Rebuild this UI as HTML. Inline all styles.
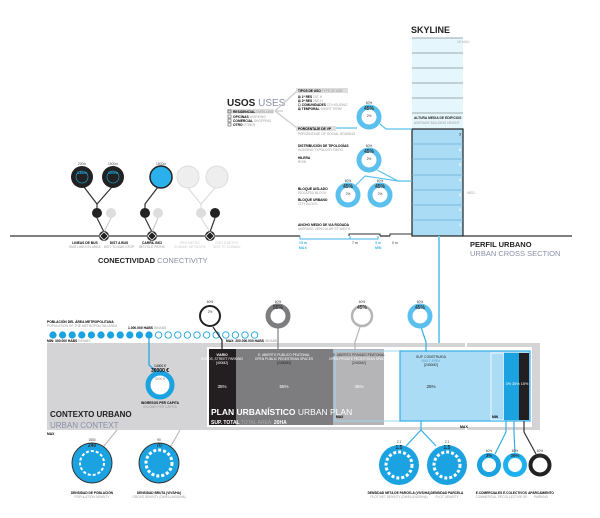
<!DOCTYPE html>
<html><head><meta charset="utf-8"><style>
html,body{margin:0;padding:0;background:#fff;}
svg{display:block;font-family:"Liberation Sans",sans-serif;}
.b{font-weight:bold;}
</style></head><body>
<svg width="600" height="518" viewBox="0 0 600 518" xmlns="http://www.w3.org/2000/svg">
<!-- SKYLINE -->
<text x="411" y="33" font-size="9" class="b" fill="#222">SKYLINE</text>
<rect x="412" y="38" width="51" height="91" fill="#e6f6fd"/>
<g stroke="#9aa" stroke-width="1">
<line x1="412" y1="38" x2="463" y2="38"/><line x1="412" y1="53" x2="463" y2="53"/><line x1="412" y1="68" x2="463" y2="68"/><line x1="412" y1="83" x2="463" y2="83"/><line x1="412" y1="98" x2="463" y2="98"/><line x1="412" y1="113" x2="463" y2="113"/>
</g>
<text x="457" y="43" font-size="3.5" fill="#aaa">15  MAX</text>
<text x="414" y="119" font-size="3.3" class="b" fill="#222">ALTURA MEDIA DE EDIFICIOS</text>
<text x="414" y="124" font-size="3.3" fill="#999">AVERAGE BUILDING HEIGHT</text>
<rect x="412" y="129" width="51" height="107" fill="#aadcf5" stroke="#222" stroke-width="1.2"/>
<g stroke="#6aaed0" stroke-width="0.8">
<line x1="412" y1="144" x2="463" y2="144"/><line x1="412" y1="159" x2="463" y2="159"/><line x1="412" y1="175" x2="463" y2="175"/><line x1="412" y1="190" x2="463" y2="190"/><line x1="412" y1="205" x2="463" y2="205"/><line x1="412" y1="220" x2="463" y2="220"/>
</g>
<g font-size="4" fill="#fff" class="b"><text x="459" y="136" fill="#222">7</text><text x="459" y="151">6</text><text x="459" y="166">5</text><text x="459" y="181">4</text><text x="459" y="196">3</text><text x="459" y="211">2</text><text x="459" y="226">1</text></g>
<text x="467" y="194" font-size="3.5" fill="#aaa">MED.</text>
<!-- ground line -->
<line x1="10" y1="236" x2="300" y2="236" stroke="#333" stroke-width="1.3"/>
<polyline points="300,236 300,239 350,239 350,236" fill="none" stroke="#3fb4ec" stroke-width="1"/>
<polyline points="349,236 349,234 380,234 380,236" fill="none" stroke="#333" stroke-width="1"/>
<polyline points="350,236 350,239 378,239 378,236" fill="none" stroke="#3fb4ec" stroke-width="1"/>
<line x1="380" y1="236" x2="390" y2="236" stroke="#333" stroke-width="1.3"/>
<polyline points="390,236 390,234 412,234" fill="none" stroke="#333" stroke-width="1"/>
<line x1="463" y1="236" x2="572" y2="236" stroke="#333" stroke-width="1.3"/>
<text x="299" y="244" font-size="3.5" fill="#3fb4ec" class="b">15 m</text><text x="299" y="249" font-size="3.5" fill="#3fb4ec" class="b">MAX</text>
<text x="352" y="244" font-size="3.5" fill="#333">7 m</text>
<text x="375" y="244" font-size="3.5" fill="#3fb4ec" class="b">3 m</text><text x="375" y="249" font-size="3.5" fill="#3fb4ec" class="b">MIN</text>
<text x="392" y="244" font-size="3.5" fill="#333">0 m</text>
<text x="470" y="247" font-size="7.5" class="b" fill="#222">PERFIL URBANO</text>
<text x="470" y="256" font-size="7.5" fill="#8a8fa8">URBAN CROSS SECTION</text>
<!-- blue vertical to plan -->
<line x1="439" y1="236" x2="439" y2="351" stroke="#7dcdf3" stroke-width="2"/>
<!-- USOS -->
<text x="227" y="106" font-size="10" class="b" fill="#222">USOS <tspan fill="#8a8fa8" font-weight="normal">USES</tspan></text>
<g font-size="3.3">
<rect x="227" y="109" width="47" height="4.5" fill="#ddd"/>
<rect x="228" y="110" width="3" height="3" fill="none" stroke="#333" stroke-width="0.5"/><text x="233" y="113" class="b">RESIDENCIAL <tspan fill="#999" font-weight="normal">DWELLING</tspan></text>
<rect x="228" y="115" width="3" height="3" fill="none" stroke="#333" stroke-width="0.5"/><text x="233" y="118" class="b">OFICINAS <tspan fill="#999" font-weight="normal">WORKING</tspan></text>
<rect x="228" y="119" width="3" height="3" fill="none" stroke="#333" stroke-width="0.5"/><text x="233" y="122" class="b">COMERCIAL <tspan fill="#999" font-weight="normal">SHOPPING</tspan></text>
<rect x="228" y="123" width="3" height="3" fill="none" stroke="#333" stroke-width="0.5"/><text x="233" y="126" class="b">OTRO <tspan fill="#999" font-weight="normal">OTHER</tspan></text>
</g>
<polyline points="275,111 297,91" fill="none" stroke="#ccc" stroke-width="1.2"/>
<polyline points="275,111 297,128" fill="none" stroke="#ccc" stroke-width="1.2"/>
<line x1="275" y1="111" x2="283" y2="111" stroke="#ccc" stroke-width="1.2"/>
<rect x="296" y="88" width="52" height="5" fill="#ddd"/>
<g font-size="3.2">
<text x="298" y="92" class="b">TIPOS DE USO <tspan fill="#999" font-weight="normal">TYPE OF USE</tspan></text>
<text x="298" y="98" class="b">☒ 1ª RES <tspan fill="#999" font-weight="normal">1ST H</tspan></text>
<text x="298" y="102" class="b">☒ 2ª RES <tspan fill="#999" font-weight="normal">2ND H</tspan></text>
<text x="298" y="106" class="b">☐ COMUNIDADES <tspan fill="#999" font-weight="normal">CO-HOUSING</tspan></text>
<text x="298" y="110" class="b">☒ TEMPORAL <tspan fill="#999" font-weight="normal">SHORT-TERM</tspan></text>
</g>
<rect x="296" y="126" width="40" height="5" fill="#ddd"/>
<text x="298" y="130" font-size="3.3" class="b">PORCENTAJE DE VP</text>
<text x="298" y="135" font-size="3.3" fill="#999">PERCENTAGE OF SOCIAL HOUSING</text>
<g font-size="3.3">
<text x="298" y="147" class="b">DISTRIBUCIÓN DE TIPOLOGÍAS</text><text x="298" y="151" fill="#999">HOUSING TYPOLOGY RATIO</text>
<text x="298" y="159" class="b">HILERA</text><text x="298" y="163" fill="#999">ROW</text>
<text x="298" y="190" class="b">BLOQUE AISLADO</text><text x="298" y="194" fill="#999">ISOLATED BLOCK</text>
<text x="298" y="201" class="b">BLOQUE URBANO</text><text x="298" y="205" fill="#999">CITY BLOCK</text>
<text x="298" y="226" class="b">ANCHO MEDIO DE VIA RODADA</text><text x="298" y="230" fill="#999">AVERAGE VEHICULAR ST WIDTH</text>
</g>
<!-- usos connectors -->
<g fill="none" stroke="#5bc0ee" stroke-width="1.2">
<polyline points="336,128 357,128"/>
<polyline points="380,124 386,129 412,129"/>
<polyline points="377,170 398,181 412,181"/>
<polyline points="354,187 365,176 398,181"/>
</g>
<g>
<circle cx="369" cy="117" r="10" fill="#fff" stroke="#5bc0ee" stroke-width="5"/>
<circle cx="369" cy="160" r="10" fill="#fff" stroke="#5bc0ee" stroke-width="5"/>
<circle cx="348" cy="195" r="10" fill="#fff" stroke="#5bc0ee" stroke-width="5"/>
<circle cx="380" cy="195" r="10" fill="#fff" stroke="#5bc0ee" stroke-width="5"/>
</g>
<g font-size="3.2" text-anchor="middle" fill="#333">
<text x="369" y="104">60%</text><text x="369" y="110" font-size="5" class="b">45%</text><text x="369" y="117">2%</text>
<text x="369" y="147">60%</text><text x="369" y="153" font-size="5" class="b">45%</text><text x="369" y="160">2%</text>
<text x="348" y="182">60%</text><text x="348" y="188" font-size="5" class="b">45%</text><text x="348" y="195">2%</text>
<text x="380" y="182">60%</text><text x="380" y="188" font-size="5" class="b">45%</text><text x="380" y="195">2%</text>
</g>
<!-- CONNECTIVITY -->
<g fill="none" stroke-width="1.2">
<polyline points="84,187 97,204 112,187" stroke="#333"/>
<line x1="97" y1="204" x2="97" y2="209" stroke="#333"/>
<polyline points="97,218 104,232" stroke="#333"/>
<polyline points="111,218 104,232" stroke="#ccc"/>
<polyline points="158,187 145,204 145,209" stroke="#333"/>
<polyline points="145,218 152,232" stroke="#333"/>
<polyline points="158,218 152,232" stroke="#ccc"/>
<polyline points="188,188 201,204 215,188" stroke="#ddd"/>
<line x1="201" y1="204" x2="201" y2="209" stroke="#ddd"/>
<polyline points="201,218 210,232" stroke="#ddd"/>
<polyline points="215,218 210,232" stroke="#333"/>
</g>
<circle cx="82" cy="177" r="11" fill="#222"/><circle cx="82" cy="177" r="6" fill="none" stroke="#1fa8e0" stroke-width="0.6"/>
<circle cx="113" cy="177" r="11" fill="#222"/><circle cx="113" cy="177" r="6" fill="none" stroke="#1fa8e0" stroke-width="0.6"/>
<circle cx="161" cy="177" r="11" fill="#2ab1ec" stroke="#222" stroke-width="1.5"/>
<circle cx="188" cy="177" r="11" fill="#eee" stroke="#ddd" stroke-width="1"/>
<circle cx="217" cy="177" r="11" fill="#eee" stroke="#ddd" stroke-width="1"/>
<g font-size="3.3" text-anchor="middle">
<text x="82" y="165" fill="#555">200m</text><text x="113" y="165" fill="#555">1500m</text><text x="161" y="165" fill="#555">1500m</text>
<text x="82" y="174" fill="#1fa8e0" font-size="4" class="b">13km</text><text x="113" y="174" fill="#1fa8e0" font-size="4" class="b">100m</text>
</g>
<circle cx="97" cy="213" r="5" fill="#222"/><circle cx="111" cy="213" r="5" fill="#ddd"/>
<circle cx="145" cy="213" r="5" fill="#222"/><circle cx="158" cy="213" r="5" fill="#ddd"/>
<circle cx="201" cy="213" r="5" fill="#ddd"/><circle cx="215" cy="213" r="5" fill="#222"/>
<g>
<circle cx="104" cy="236" r="5" fill="#222"/><rect x="101" y="233" width="6" height="6" fill="none" stroke="#fff" stroke-width="0.8" transform="rotate(45 104 236)"/>
<circle cx="152" cy="236" r="5" fill="#222"/><rect x="149" y="233" width="6" height="6" fill="none" stroke="#fff" stroke-width="0.8" transform="rotate(45 152 236)"/>
<circle cx="210" cy="236" r="5" fill="#222"/><rect x="207" y="233" width="6" height="6" fill="none" stroke="#fff" stroke-width="0.8" transform="rotate(45 210 236)"/>
</g>
<g font-size="3.3" text-anchor="middle">
<text x="85" y="244" class="b">LINEAS DE BUS</text><text x="85" y="248" fill="#999">BUS LINES IN AREA</text>
<text x="119" y="244" class="b">DIST A BUS</text><text x="119" y="248" fill="#999">DIST TO BUS STOP</text>
<text x="152" y="244" class="b">CARRIL BICI</text><text x="152" y="248" fill="#999">BICYCLE PATHS</text>
<text x="190" y="244" fill="#ccc">RED METRO</text><text x="190" y="248" fill="#ccc">SUBWAY NETWORK</text>
<text x="227" y="244" fill="#ccc">DIST A METRO</text><text x="227" y="248" fill="#ccc">DIST TO SUBWAY</text>
</g>
<text x="98" y="263" font-size="7.5" class="b" fill="#222">CONECTIVIDAD <tspan fill="#8a8fa8" font-weight="normal">CONECTIVITY</tspan></text>
<!-- CONTEXT -->
<rect x="47" y="343" width="418" height="87" fill="#d4d4d6"/>
<rect x="467" y="343" width="73" height="87" fill="#d4d4d6"/>
<text x="50" y="417" font-size="8" class="b" fill="#222">CONTEXTO URBANO</text>
<text x="50" y="428" font-size="8" fill="#8a8fa8">URBAN CONTEXT</text>
<text x="47" y="435" font-size="3.3" class="b">MAX</text>
<text x="47" y="323" font-size="3.3" class="b">POBLACIÓN DEL ÁREA METROPOLITANA</text>
<text x="47" y="327" font-size="3.3" fill="#999">POPULATION OF THE METROPOLITAN AREA</text>
<text x="128" y="329" font-size="3.3" class="b">1.000.000 HABS <tspan fill="#999" font-weight="normal">INHABS</tspan></text>
<text x="47" y="342" font-size="3.3" class="b">MIN: 300.000 HABS <tspan fill="#999" font-weight="normal">INHABS</tspan></text>
<text x="226" y="342" font-size="3.3" class="b">MAX: 200.000.000 HABS <tspan fill="#999" font-weight="normal">INHABS</tspan></text>
<g fill="#1aa3e0">
<circle cx="53" cy="335" r="3.6"/><circle cx="62.6" cy="335" r="3.6"/><circle cx="72.2" cy="335" r="3.6"/><circle cx="81.8" cy="335" r="3.6"/><circle cx="91.4" cy="335" r="3.6"/><circle cx="101" cy="335" r="3.6"/><circle cx="110.6" cy="335" r="3.6"/><circle cx="120.2" cy="335" r="3.6"/><circle cx="129.8" cy="335" r="3.6"/><circle cx="139.4" cy="335" r="3.6"/><circle cx="149" cy="335" r="3.6"/>
</g>
<g fill="#fff" stroke="#1aa3e0" stroke-width="0.9">
<circle cx="158.6" cy="335" r="3.2"/><circle cx="168.2" cy="335" r="3.2"/><circle cx="177.8" cy="335" r="3.2"/><circle cx="187.4" cy="335" r="3.2"/><circle cx="197" cy="335" r="3.2"/><circle cx="206.6" cy="335" r="3.2"/><circle cx="216.2" cy="335" r="3.2"/><circle cx="225.8" cy="335" r="3.2"/><circle cx="235.4" cy="335" r="3.2"/><circle cx="245" cy="335" r="3.2"/><circle cx="254.6" cy="335" r="3.2"/>
</g>
<polyline points="149,338 149,365 156,371" fill="none" stroke="#1aa3e0" stroke-width="1.2"/>
<circle cx="160" cy="385" r="12" fill="#fff" stroke="#1aa3e0" stroke-width="5"/>
<g font-size="3.3" text-anchor="middle">
<text x="160" y="367">14000 €</text><text x="160" y="372" font-size="5" class="b">30000 €</text><text x="160" y="380" fill="#888">5000 €</text>
<text x="160" y="404" class="b">INGRESOS PER CAPITA</text><text x="160" y="408" fill="#999">INCOME PER CAPITA</text>
</g>
<!-- PLAN -->
<rect x="207" y="347" width="325" height="80" fill="#fff"/>
<rect x="209" y="349" width="27" height="76" fill="#231f20"/>
<rect x="236" y="349" width="97" height="76" fill="#7d7d7f"/>
<rect x="333" y="349" width="51" height="76" fill="#b5b5b7"/>
<rect x="335" y="351" width="65" height="70" fill="none" stroke="#9fd6f2" stroke-width="1"/>
<rect x="400" y="351" width="130" height="70" fill="#aadcf5" stroke="#35aee8" stroke-width="1.2"/>
<rect x="491" y="353" width="13" height="67" fill="none" stroke="#fff" stroke-width="0.8"/>
<rect x="504" y="353" width="15" height="67" fill="#1aa3e0"/>
<rect x="519" y="353" width="10" height="67" fill="#231f20"/>
<g font-size="3.3" text-anchor="middle" fill="#fff">
<text x="222" y="356" class="b">VIARIO</text><text x="222" y="360">ROADS, STREET PARKING</text><text x="222" y="364">[400M2]</text>
<text x="284" y="356">E. ABIERTO PUBLICO PEATONAL</text><text x="284" y="360">OPEN PUBLIC PEDESTRIAN SPACES</text><text x="284" y="364" fill="#222">[2400M2]</text>
<text x="359" y="356" fill="#333">E. ABIERTO PRIVADO PEATONAL</text><text x="359" y="360">OPEN PRIVATE PEDESTRIAN SPACES</text><text x="359" y="364" fill="#333">[2400M2]</text>
<text x="431" y="358" fill="#222">SUP. CONSTRUIDA</text><text x="431" y="362" fill="#5a9ec2">BUILT AREA</text><text x="431" y="366" fill="#222">[2400M2]</text>
</g>
<g font-size="4.5" text-anchor="middle" fill="#fff">
<text x="222" y="388">35%</text><text x="284" y="388">55%</text><text x="359" y="388">45%</text><text x="431" y="388" fill="#222">25%</text><text x="517" y="385" font-size="3.8">3% 35% 15%</text>
</g>
<text x="211" y="415" font-size="8.5" class="b" fill="#fff">PLAN URBANÍSTICO <tspan font-weight="normal">URBAN PLAN</tspan></text>
<text x="211" y="424" font-size="5" class="b" fill="#fff">SUP. TOTAL <tspan font-weight="normal" fill="#aaa">TOTAL AREA:</tspan> 20HA</text>
<text x="336" y="418" font-size="3.3" class="b">MAX</text>
<text x="492" y="418" font-size="3.3" class="b">MIN</text>
<text x="460" y="428" font-size="3.5" class="b">MAX</text>
<!-- top plan circles -->
<g fill="none" stroke-width="1.2">
<polyline points="213,327 222,340 222,352" stroke="#222"/>
<line x1="278" y1="327" x2="278" y2="352" stroke="#7d7d7f"/>
<polyline points="360,327 355,342 355,352" stroke="#b5b5b7"/>
<polyline points="421,327 426,342 426,352" stroke="#35aee8"/>
</g>
<circle cx="210" cy="316" r="10" fill="#fff" stroke="#222" stroke-width="2"/>
<circle cx="278" cy="316" r="10" fill="#fff" stroke="#7d7d7f" stroke-width="5"/>
<circle cx="362" cy="316" r="10" fill="#fff" stroke="#b5b5b7" stroke-width="2.5"/>
<circle cx="420" cy="316" r="10" fill="#fff" stroke="#5bc0ee" stroke-width="5"/>
<g font-size="3.2" text-anchor="middle" fill="#333">
<text x="210" y="303">60%</text><text x="210" y="313">2%</text>
<text x="278" y="303">60%</text><text x="278" y="309" font-size="5" class="b">55%</text>
<text x="362" y="303">60%</text><text x="362" y="309" font-size="5" class="b">45%</text>
<text x="420" y="303">60%</text><text x="420" y="309" font-size="5" class="b">45%</text>
</g>
<!-- bottom circles -->
<g fill="none" stroke-width="1.2">
<polyline points="104,446 117,430" stroke="#bbb"/>
<polyline points="171,446 180,430" stroke="#bbb"/>
<polyline points="406,446 421,430 436,446" stroke="#35aee8"/>
<line x1="421" y1="430" x2="421" y2="421" stroke="#35aee8"/>
<polyline points="495,454 506,432 506,421" stroke="#35aee8"/>
<polyline points="515,454 514,432 514,421" stroke="#35aee8"/>
<polyline points="536,454 524,432 524,421" stroke="#333"/>
</g>
<g>
<circle cx="92" cy="463" r="20" fill="#1aa3e0" stroke="#333" stroke-width="1"/><circle cx="92" cy="463" r="12" fill="none" stroke="#fff" stroke-width="2" stroke-dasharray="3 2"/>
<circle cx="159" cy="463" r="20" fill="#1aa3e0" stroke="#333" stroke-width="1"/><circle cx="159" cy="463" r="13" fill="none" stroke="#fff" stroke-width="3" stroke-dasharray="3 2"/>
<circle cx="399" cy="465" r="20" fill="#1aa3e0"/><circle cx="399" cy="465" r="13" fill="none" stroke="#fff" stroke-width="3" stroke-dasharray="3 2"/>
<circle cx="447" cy="465" r="20" fill="#1aa3e0"/><circle cx="447" cy="465" r="13" fill="none" stroke="#fff" stroke-width="3" stroke-dasharray="3 2"/>
<circle cx="489" cy="465" r="9.5" fill="#fff" stroke="#1aa3e0" stroke-width="5"/>
<circle cx="515" cy="465" r="9.5" fill="#fff" stroke="#1fb0ee" stroke-width="5"/>
<circle cx="540" cy="465" r="9.5" fill="#fff" stroke="#222" stroke-width="4"/>
</g>
<g font-size="3.2" text-anchor="middle" fill="#333">
<text x="92" y="441">1500</text><text x="92" y="447" font-size="5" class="b">240</text>
<text x="159" y="441">90</text><text x="159" y="447" font-size="5" class="b">70</text>
<text x="399" y="443">2.1</text><text x="399" y="449" font-size="5" class="b">1.5</text>
<text x="447" y="443">2.1</text><text x="447" y="449" font-size="5" class="b">1.5</text>
<text x="489" y="452">60%</text><text x="489" y="457" font-size="4.5" class="b">3%</text>
<text x="515" y="452">60%</text><text x="515" y="457" font-size="4.5" class="b">35%</text>
<text x="540" y="452">60%</text><text x="540" y="457" font-size="4.5" class="b">15%</text>
</g>
<g font-size="3.2" text-anchor="middle">
<text x="92" y="494" class="b">DENSIDAD DE POBLACIÓN</text><text x="92" y="498" fill="#999">POPULATION DENSITY</text>
<text x="159" y="494" class="b">DENSIDAD BRUTA (VIVS/HA)</text><text x="159" y="498" fill="#999">GROSS DENSITY (DWELLINGS/HA)</text>
<text x="399" y="494" class="b">DENSIDAD NETA DE PARCELA (VIVS/HA)</text><text x="399" y="498" fill="#999">PLOT NET DENSITY (DWELLINGS/HA)</text>
<text x="447" y="494" class="b">DENSIDAD PARCELA</text><text x="447" y="498" fill="#999">PLOT DENSITY</text>
<text x="489" y="494" class="b">E.COMERCIALES</text><text x="489" y="498" fill="#999">COMMERCIAL SP.</text>
<text x="515" y="494" class="b">E.COLECTIVOS</text><text x="515" y="498" fill="#999">COLLECTIVE SP.</text>
<text x="541" y="494" class="b">APARCAMIENTO</text><text x="541" y="498" fill="#999">PARKING</text>
</g>
</svg>
</body></html>
